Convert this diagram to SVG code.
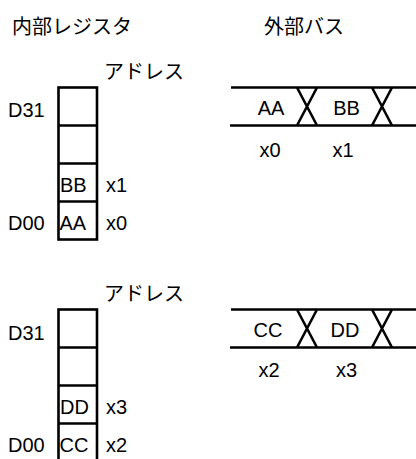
<svg xmlns="http://www.w3.org/2000/svg" width="416" height="459" viewBox="0 0 416 459">
<style>
.jp{font-family:"Noto Sans CJK JP","Noto Sans",sans-serif;font-size:20px;fill:#000}
.t{font-family:"Liberation Sans",Arial,sans-serif;font-size:20px;fill:#000}
.m{text-anchor:middle}
.ln{stroke:#000;stroke-width:2.6;fill:none}
</style>
<rect width="416" height="459" fill="#fff"/>
<g id="titles">
<text class="jp" x="12" y="34">内部レジスタ</text>
<text class="jp" x="264" y="34">外部バス</text>
</g>
<g id="reg1">
<text class="jp" x="104" y="79">アドレス</text>
<rect class="ln" x="58.5" y="87.5" width="38.5" height="152"/>
<path class="ln" d="M58.5 125.5H97M58.5 163.5H97M58.5 201.5H97"/>
<text class="t" x="8" y="117">D31</text>
<text class="t" x="8" y="230">D00</text>
<text class="t" x="60" y="191.5">BB</text>
<text class="t" x="59.5" y="230">AA</text>
<text class="t" x="106" y="192">x1</text>
<text class="t" x="106" y="230">x0</text>
</g>
<g id="bus1">
<path class="ln" d="M231 87.5H416M230 125.5H416M297 87.5L317 125.5M317 87.5L297 125.5M372 87.5L392 125.5M392 87.5L372 125.5"/>
<text class="t m" x="271" y="115">AA</text>
<text class="t m" x="346.5" y="115">BB</text>
<text class="t m" x="270" y="157">x0</text>
<text class="t m" x="343" y="157">x1</text>
</g>
<g id="reg2">
<text class="jp" x="104" y="301">アドレス</text>
<rect class="ln" x="58.5" y="309.5" width="38.5" height="152"/>
<path class="ln" d="M58.5 347.5H97M58.5 385.5H97M58.5 423.5H97"/>
<text class="t" x="8" y="340">D31</text>
<text class="t" x="8" y="452">D00</text>
<text class="t" x="60" y="414">DD</text>
<text class="t" x="59.5" y="452">CC</text>
<text class="t" x="106" y="414">x3</text>
<text class="t" x="106" y="452">x2</text>
</g>
<g id="bus2">
<path class="ln" d="M231 309.5H416M230 347.5H416M297 309.5L317 347.5M317 309.5L297 347.5M372 309.5L392 347.5M392 309.5L372 347.5"/>
<text class="t m" x="268" y="337">CC</text>
<text class="t m" x="345" y="337">DD</text>
<text class="t m" x="269" y="377">x2</text>
<text class="t m" x="346.5" y="377">x3</text>
</g>
<g id="connectors"/>
</svg>
